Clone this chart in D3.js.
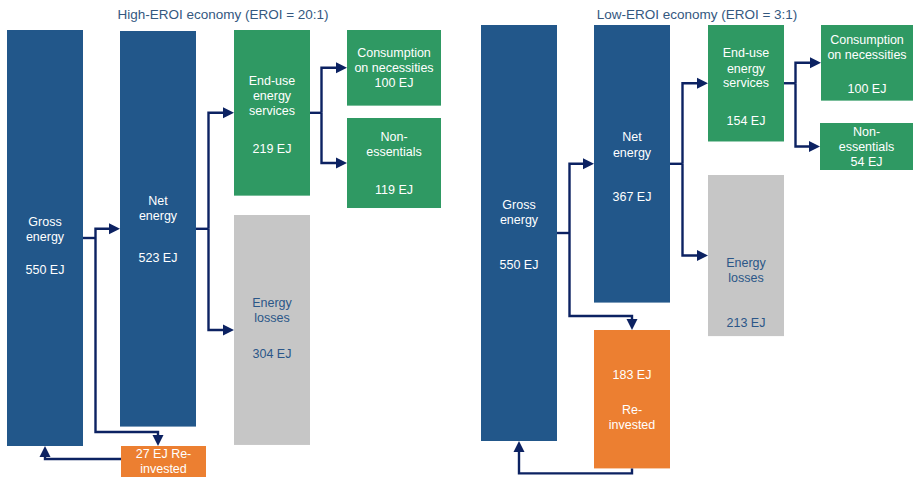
<!DOCTYPE html>
<html>
<head>
<meta charset="utf-8">
<script src="https://cdn.jsdelivr.net/npm/d3@7"></script>
<style>
  html, body { margin: 0; padding: 0; background: #ffffff; }
  svg { display: block; font-family: "Liberation Sans", Arial, Helvetica, sans-serif; }
</style>
</head>
<body>
<svg id="chart" width="913" height="478"></svg>
<script>
// ---- Data -------------------------------------------------------------
const panelTitles = ["High-EROI economy (EROI = 20:1)", "Low-EROI economy (EROI = 3:1)"];
const nodeKeys = ["gross", "net", "enduse", "losses", "necessities", "nonessentials", "reinvested"];
const highEroiValues = [550, 523, 219, 304, 100, 119, 27];
const lowEroiValues = [550, 367, 154, 213, 100, 54, 183];
// label lines per node; {v} is replaced by the node value
const highEroiLabels = [
  ["Gross", "energy", "{v} EJ"],
  ["Net", "energy", "{v} EJ"],
  ["End-use", "energy", "services", "{v} EJ"],
  ["Energy", "losses", "{v} EJ"],
  ["Consumption", "on necessities", "{v} EJ"],
  ["Non-", "essentials", "{v} EJ"],
  ["{v} EJ Re-", "invested"]
];
const lowEroiLabels = [
  ["Gross", "energy", "{v} EJ"],
  ["Net", "energy", "{v} EJ"],
  ["End-use", "energy", "services", "{v} EJ"],
  ["Energy", "losses", "{v} EJ"],
  ["Consumption", "on necessities", "{v} EJ"],
  ["Non-", "essentials", "{v} EJ"],
  ["{v} EJ", "Re-", "invested"]
];

// ---- Layout -----------------------------------------------------------
const colors = {
  gross: "#22578a", net: "#22578a", enduse: "#2f9963", necessities: "#2f9963",
  nonessentials: "#2f9963", losses: "#c6c6c6", reinvested: "#ec7f31"
};
const textColors = { losses: "#2b5688" };
const arrowColor = "#0c2262";

// box placement: left x, top y, width, label line offsets from top
const highEroiLayout = {
  titleX: 223, titleY: 14,
  gross:         { x: 7,   y: 30,  w: 76, ly: [191, 206, 239] },
  net:           { x: 120, y: 31,  w: 76, ly: [169, 184, 226] },
  enduse:        { x: 234, y: 30,  w: 76, ly: [50, 65, 80, 118] },
  losses:        { x: 234, y: 215, w: 76, ly: [87, 102, 138] },
  necessities:   { x: 347, y: 30,  w: 94, ly: [22, 37, 52] },
  nonessentials: { x: 347, y: 118, w: 94, ly: [18, 33, 71] },
  reinvested:    { x: 121, y: 446, w: 85, ly: [7, 22] }
};
const lowEroiLayout = {
  titleX: 697, titleY: 14,
  gross:         { x: 481, y: 25,  w: 76, ly: [179, 194, 239] },
  net:           { x: 594, y: 25,  w: 76, ly: [111, 127, 171] },
  enduse:        { x: 708, y: 25,  w: 76, ly: [27, 43, 57, 95] },
  losses:        { x: 708, y: 175, w: 76, ly: [87, 102, 147] },
  necessities:   { x: 821, y: 25,  w: 92, ly: [14, 29, 63] },
  nonessentials: { x: 820, y: 123, w: 93, ly: [8, 23, 38] },
  reinvested:    { x: 594, y: 330, w: 76, ly: [44, 79, 94] }
};

// energy (EJ) -> box height in px
const h = d3.scaleLinear().domain([0, 550]).range([0, 416]);

const svg = d3.select("#chart");

function buildNodes(values, labels, layout) {
  const nodes = {};
  nodeKeys.forEach((k, i) => {
    const L = layout[k];
    const textNeed = L.ly[L.ly.length - 1] + 9;
    const height = Math.max(h(values[i]), textNeed);
    nodes[k] = {
      key: k, value: values[i], x: L.x, y: L.y, w: L.w, h: height, ly: L.ly,
      lines: labels[i].map(s => s.replace("{v}", values[i])),
      cx: L.x + L.w / 2, cy: L.y + height / 2,
      right: L.x + L.w, bottom: L.y + height
    };
  });
  return nodes;
}

function drawBoxes(g, nodes) {
  const list = nodeKeys.map(k => nodes[k]);
  g.selectAll("rect.box").data(list).join("rect")
    .attr("class", "box")
    .attr("x", d => d.x).attr("y", d => d.y)
    .attr("width", d => d.w).attr("height", d => d.h)
    .attr("fill", d => colors[d.key]);
  const labels = g.selectAll("g.lbl").data(list).join("g").attr("class", "lbl");
  labels.selectAll("text").data(d => d.lines.map((t, j) => ({ t, y: d.y + d.ly[j], x: d.cx, key: d.key })))
    .join("text")
    .attr("x", d => d.x).attr("y", d => d.y).attr("dy", "0.36em")
    .attr("text-anchor", "middle")
    .attr("font-size", 12.5)
    .attr("fill", d => textColors[d.key] || "#ffffff")
    .text(d => d.t);
}

function arrow(g, pts) {
  g.append("path")
    .attr("d", d3.line()(pts.slice(0, -1).concat([shorten(pts)])))
    .attr("fill", "none").attr("stroke", arrowColor)
    .attr("stroke-width", 2.4).attr("stroke-linejoin", "miter");
  const [x1, y1] = pts[pts.length - 2];
  const [x2, y2] = pts[pts.length - 1];
  const a = Math.atan2(y2 - y1, x2 - x1);
  const len = 11, half = 5.5;
  const bx = x2 - len * Math.cos(a), by = y2 - len * Math.sin(a);
  const px = -Math.sin(a) * half, py = Math.cos(a) * half;
  g.append("path")
    .attr("d", `M${x2},${y2}L${bx + px},${by + py}L${bx - px},${by - py}Z`)
    .attr("fill", arrowColor);
}
function shorten(pts) {
  const [x1, y1] = pts[pts.length - 2];
  const [x2, y2] = pts[pts.length - 1];
  const a = Math.atan2(y2 - y1, x2 - x1);
  return [x2 - 8 * Math.cos(a), y2 - 8 * Math.sin(a)];
}
function line(g, pts) {
  g.append("path").attr("d", d3.line()(pts))
    .attr("fill", "none").attr("stroke", arrowColor)
    .attr("stroke-width", 2.4).attr("stroke-linejoin", "miter");
}

// a split connector: source right edge -> elbow -> each target's left edge
function split(g, src, targets, gap) {
  const sx = src.right + gap;
  line(g, [[src.right, src.cy], [sx, src.cy]]);
  targets.forEach(t => arrow(g, [[sx, src.cy], [sx, t.cy], [t.x, t.cy]]));
}

function drawPanel(values, labels, layout, title, reinvestBelow) {
  const g = svg.append("g");
  const n = buildNodes(values, labels, layout);
  drawBoxes(g, n);

  g.append("text")
    .attr("x", layout.titleX).attr("y", layout.titleY).attr("dy", "0.36em")
    .attr("text-anchor", "middle").attr("font-size", 13.5)
    .attr("fill", "#34587f").text(title);

  const conn = g.append("g");
  // gross -> net and gross -> reinvested
  const gx = n.gross.right + 12.5;
  line(conn, [[n.gross.right, n.gross.cy], [gx, n.gross.cy]]);
  arrow(conn, [[gx, n.gross.cy], [gx, n.net.cy], [n.net.x, n.net.cy]]);
  const ry = n.reinvested.y - 14;
  arrow(conn, [[gx, n.gross.cy], [gx, ry], [n.net.cx, ry], [n.net.cx, n.reinvested.y]]);
  // net -> end use / losses
  split(conn, n.net, [n.enduse, n.losses], 12.5);
  // end use -> necessities / non-essentials
  split(conn, n.enduse, [n.necessities, n.nonessentials], 11.5);
  // reinvested energy returns to gross energy
  if (reinvestBelow) {
    const by = n.reinvested.bottom + 5;
    arrow(conn, [[n.reinvested.cx, n.reinvested.bottom], [n.reinvested.cx, by],
                 [n.gross.cx, by], [n.gross.cx, n.gross.bottom]]);
  } else {
    const yy = n.reinvested.y + 13;
    arrow(conn, [[n.reinvested.x, yy], [n.gross.cx, yy], [n.gross.cx, n.gross.bottom]]);
  }
}

drawPanel(highEroiValues, highEroiLabels, highEroiLayout, panelTitles[0], false);
drawPanel(lowEroiValues, lowEroiLabels, lowEroiLayout, panelTitles[1], true);
</script>
</body>
</html>
